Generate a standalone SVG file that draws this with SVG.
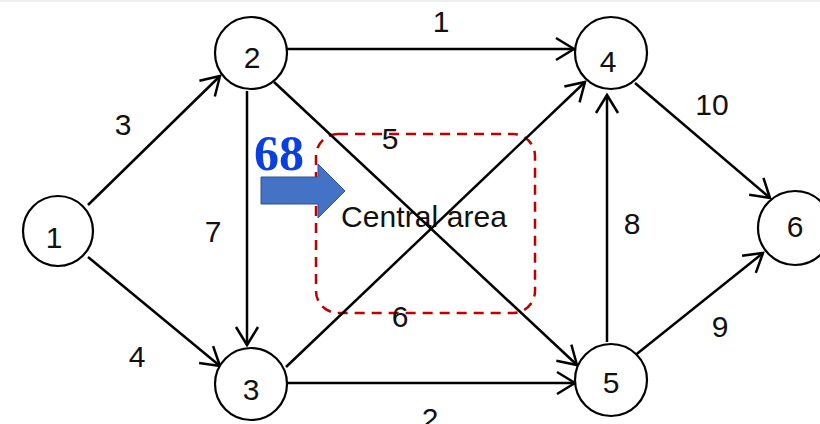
<svg xmlns="http://www.w3.org/2000/svg" width="820" height="424" viewBox="0 0 820 424">
<style>
.node circle{fill:#fff;stroke:#000;stroke-width:2.2}
.lbl{font-family:"Liberation Sans",Arial,sans-serif;font-size:30px;fill:#111;text-anchor:middle}
.edge{stroke:#000;stroke-width:2.5;fill:none;marker-end:url(#ah)}
</style>
<defs>
<marker id="ah" viewBox="0 0 24 28" refX="21" refY="14" markerWidth="24" markerHeight="28" markerUnits="userSpaceOnUse" orient="auto">
<path d="M3,3 L21,14 L3,25" fill="none" stroke="#000" stroke-width="2.5"/>
</marker>
</defs>
<rect x="0" y="0" width="820" height="424" fill="#fff"/>
<rect x="0" y="0" width="820" height="2" fill="#eeeeee"/>
<g id="central-area">
<rect x="316" y="134" width="219" height="179" rx="22" fill="none" stroke="#c00000" stroke-width="2.5" stroke-dasharray="10 7"/>
<text class="lbl" x="424" y="227" textLength="166">Central area</text>
</g>
<g id="connectors">
<line class="edge" x1="88" y1="205" x2="220" y2="76"/>
<line class="edge" x1="88" y1="257" x2="220" y2="366"/>
<line class="edge" x1="287" y1="49" x2="574" y2="49"/>
<line class="edge" x1="247" y1="91" x2="247" y2="345"/>
<line class="edge" x1="274" y1="82" x2="577" y2="365"/>
<line class="edge" x1="286" y1="367" x2="585" y2="82"/>
<line class="edge" x1="287" y1="383" x2="575" y2="383"/>
<line class="edge" x1="607" y1="342" x2="607" y2="95"/>
<line class="edge" x1="635" y1="83" x2="770" y2="198"/>
<line class="edge" x1="633" y1="357" x2="763" y2="253"/>
<text class="lbl" x="123" y="135">3</text>
<text class="lbl" x="441" y="32">1</text>
<text class="lbl" x="390" y="149">5</text>
<text class="lbl" x="213" y="242">7</text>
<text class="lbl" x="632" y="234">8</text>
<text class="lbl" x="712" y="115">10</text>
<text class="lbl" x="400" y="327">6</text>
<text class="lbl" x="137" y="367">4</text>
<text class="lbl" x="720" y="337">9</text>
<text class="lbl" x="430" y="429">2</text>
</g>
<g id="node1" class="node"><circle cx="58" cy="231" r="35"/><text class="lbl" x="54" y="248">1</text></g>
<g id="node2" class="node"><circle cx="251" cy="53" r="36"/><text class="lbl" x="252" y="68">2</text></g>
<g id="node3" class="node"><circle cx="251" cy="384" r="36"/><text class="lbl" x="251" y="400">3</text></g>
<g id="node4" class="node"><circle cx="611" cy="53" r="36"/><text class="lbl" x="608" y="72">4</text></g>
<g id="node5" class="node"><circle cx="611" cy="380" r="36"/><text class="lbl" x="611" y="393">5</text></g>
<g id="node6" class="node"><circle cx="795" cy="228" r="37"/><text class="lbl" x="795" y="237">6</text></g>
<g id="marker68">
<text x="279" y="170" font-family="'Liberation Serif','Times New Roman',serif" font-weight="bold" font-size="50" fill="#0b3fe0" text-anchor="middle">68</text>
<path d="M261,177 L318,177 L318,164 L345,191 L318,218 L318,204 L261,204 Z" fill="#4472c4" stroke="#2f528f" stroke-width="1"/>
</g>
</svg>
